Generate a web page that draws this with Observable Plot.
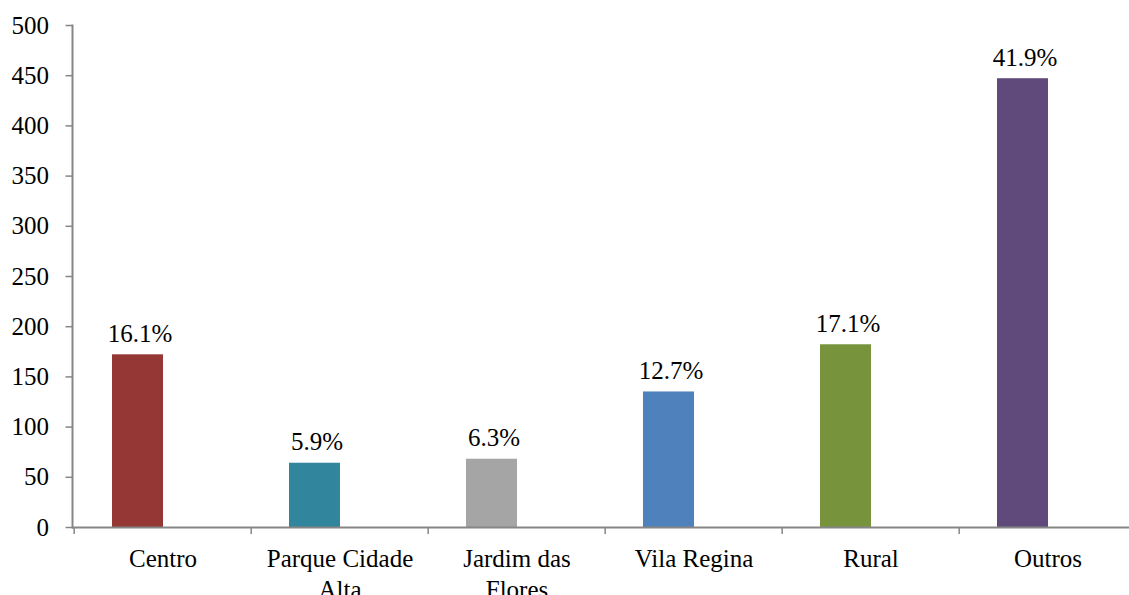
<!DOCTYPE html>
<html><head><meta charset="utf-8">
<script src="https://cdn.jsdelivr.net/npm/d3@7"></script>
<script src="https://cdn.jsdelivr.net/npm/@observablehq/plot@0.6"></script>
<style>
html,body{margin:0;padding:0;background:#fff;overflow:hidden}
svg text{font-family:'Liberation Serif','Times New Roman',serif}
</style></head><body><div id="chart"></div>
<script>
const categories = ["Centro", "Parque Cidade Alta", "Jardim das Flores", "Vila Regina", "Rural", "Outros"];
const counts = [172, 64, 68, 135, 182, 447];
const shares = [16.1, 5.9, 6.3, 12.7, 17.1, 41.9];
const colors = ["#953735", "#31859C", "#A5A5A5", "#4F81BD", "#77933C", "#604A7B"];
const yTicks = [0, 50, 100, 150, 200, 250, 300, 350, 400, 450, 500];

const data = categories.map((c, i) => ({category: c, count: counts[i], share: shares[i]}));
const font = "'Liberation Serif','Times New Roman',serif";
const axisColor = "#868686";
const W = 1129, H = 595, ML = 72, MR = -9;
const step = (W - MR - ML) / categories.length;

const chart = Plot.plot({
  width: W, height: H,
  marginLeft: ML, marginRight: MR, marginTop: 25, marginBottom: 68,
  style: {fontFamily: font, fontSize: "25px", color: "#000", background: "#fff", overflow: "hidden"},
  x: {domain: categories, padding: 0, axis: null, label: null},
  y: {domain: [0, 500], axis: null, label: null},
  color: {domain: categories, range: colors},
  marks: [
    Plot.barY(data, {x: "category", y: "count", fill: "category", insetLeft: 38, insetRight: 88}),
    Plot.frame({anchor: "left", stroke: axisColor, strokeWidth: 2}),
    Plot.axisY({ticks: yTicks, label: null, tickSize: 6.5, tickPadding: 17, stroke: axisColor, fill: "#000", fontSize: 25, fontFamily: font, strokeWidth: 1.5}),
    Plot.ruleY([0], {stroke: axisColor, strokeWidth: 2}),
    Plot.axisX({label: null, tickSize: 7, tickFormat: () => "", dx: -step / 2, stroke: axisColor, strokeWidth: 1.5}),
    Plot.text(data, {x: "category", text: "category", frameAnchor: "bottom", lineAnchor: "top", dy: 18, lineWidth: 7.6, lineHeight: 1.22, fontSize: 25, fontFamily: font, fill: "#000"}),
    Plot.text(data, {x: "category", y: "count", text: d => d.share.toFixed(1) + "%", lineAnchor: "bottom", dy: -13, dx: -23, fontSize: 25, fontFamily: font, fill: "#000"})
  ]
});
document.getElementById("chart").appendChild(chart);
</script></body></html>
